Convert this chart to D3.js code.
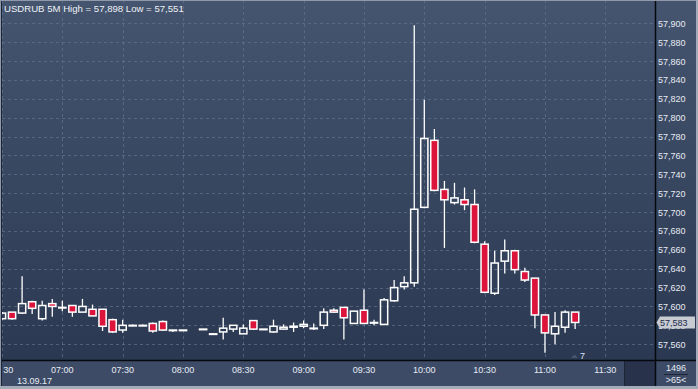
<!DOCTYPE html>
<html>
<head>
<meta charset="utf-8">
<script src="https://cdn.jsdelivr.net/npm/d3@7"></script>
<style>
  body { margin: 0; background: #2c3a55; }
  svg { display: block; font-family: "Liberation Sans", Arial, sans-serif; }
</style>
</head>
<body>
<script>
// 5 minute candles, 13.09.17 (08:05 has no candle)
var times = ["06:30","06:35","06:40","06:45","06:50","06:55","07:00","07:05","07:10","07:15",
             "07:20","07:25","07:30","07:35","07:40","07:45","07:50","07:55","08:00",
             "08:10","08:15","08:20","08:25","08:30","08:35","08:40","08:45","08:50","08:55",
             "09:00","09:05","09:10","09:15","09:20","09:25","09:30","09:35","09:40","09:45",
             "09:50","09:55","10:00","10:05","10:10","10:15","10:20","10:25","10:30","10:35",
             "10:40","10:45","10:50","10:55","11:00","11:05","11:10","11:15"];
var open  = [57.587,57.594,57.593,57.605,57.587,57.603,57.599,57.601,57.594,57.597,
             57.597,57.586,57.575,57.580,57.580,57.582,57.584,57.575,57.575,
             57.576,57.571,57.573,57.576,57.571,57.585,57.576,57.573,57.576,57.578,
             57.579,57.577,57.580,57.596,57.599,57.582,57.596,57.583,57.581,57.606,
             57.621,57.625,57.705,57.776,57.724,57.710,57.713,57.708,57.666,57.614,
             57.648,57.659,57.637,57.630,57.591,57.571,57.578,57.594];
var high  = [57.594,57.594,57.632,57.606,57.606,57.608,57.606,57.601,57.608,57.602,
             57.597,57.587,57.586,57.581,57.581,57.583,57.585,57.575,57.575,
             57.576,57.571,57.588,57.580,57.581,57.585,57.576,57.586,57.581,57.583,
             57.585,57.582,57.598,57.598,57.599,57.595,57.618,57.586,57.609,57.628,
             57.632,57.898,57.819,57.788,57.733,57.731,57.726,57.724,57.669,57.659,
             57.671,57.660,57.641,57.630,57.591,57.594,57.596,57.594];
var low   = [57.586,57.586,57.592,57.592,57.585,57.589,57.595,57.589,57.594,57.590,
             57.574,57.572,57.572,57.579,57.579,57.572,57.574,57.573,57.575,
             57.575,57.570,57.565,57.573,57.571,57.575,57.576,57.572,57.576,57.573,
             57.577,57.575,57.576,57.593,57.565,57.582,57.582,57.580,57.580,57.605,
             57.618,57.621,57.704,57.722,57.662,57.708,57.702,57.667,57.614,57.612,
             57.635,57.635,57.626,57.577,57.551,57.560,57.572,57.576];
var close = [57.593,57.587,57.603,57.598,57.601,57.600,57.599,57.594,57.600,57.590,
             57.579,57.573,57.580,57.580,57.580,57.574,57.575,57.575,57.575,
             57.576,57.571,57.577,57.580,57.577,57.576,57.576,57.579,57.578,57.579,
             57.581,57.577,57.594,57.594,57.588,57.595,57.582,57.583,57.607,57.620,
             57.625,57.703,57.778,57.723,57.713,57.715,57.708,57.668,57.615,57.646,
             57.659,57.639,57.628,57.591,57.572,57.579,57.594,57.583];

var priceTicks = [57.56,57.58,57.60,57.62,57.64,57.66,57.68,57.70,57.72,57.74,
                  57.76,57.78,57.80,57.82,57.84,57.86,57.88,57.90];
var timeTicks = ["06:30","07:00","07:30","08:00","08:30","09:00","09:30","10:00","10:30","11:00","11:30"];

var width = 698, height = 389;
var plotRight = 655, plotBottom = 360;

var parseTime = d3.timeParse("%H:%M");
var ru = d3.formatLocale({decimal: ",", thousands: " ", grouping: [3], currency: ["", ""]});
var fmt = ru.format(".3f");

var candles = times.map(function(t, i) {
  return {t: parseTime(t), o: open[i], h: high[i], l: low[i], c: close[i]};
});

var x = d3.scaleTime()
          .domain([parseTime("06:30"), parseTime("11:30")])
          .range([2, 605.3]);
var y = d3.scaleLinear()
          .domain([57.56, 57.90])
          .range([344.2, 23.3]);

var svg = d3.select("body").append("svg")
            .attr("width", width)
            .attr("height", height);

var defs = svg.append("defs");
var grad = defs.append("linearGradient")
               .attr("id", "bg").attr("x1", 0).attr("y1", 0).attr("x2", 0).attr("y2", 1);
grad.append("stop").attr("offset", "0%").attr("stop-color", "#45556f");
grad.append("stop").attr("offset", "100%").attr("stop-color", "#29364f");

defs.append("clipPath").attr("id", "plotClip")
    .append("rect").attr("x", 2).attr("y", 1).attr("width", plotRight - 2).attr("height", plotBottom - 1);
defs.append("clipPath").attr("id", "axisClip")
    .append("rect").attr("x", 3).attr("y", plotBottom).attr("width", 620).attr("height", 30);

// backgrounds
svg.append("rect").attr("width", width).attr("height", height).attr("fill", "url(#bg)");
svg.append("rect")
   .attr("x", 0).attr("y", plotBottom).attr("width", width).attr("height", height - plotBottom)
   .attr("fill", "#3d4b67");
svg.append("rect")
   .attr("x", 625).attr("y", plotBottom + 1).attr("width", 30).attr("height", 25)
   .attr("fill", "#28334b");
svg.append("line")
   .attr("x1", 624.5).attr("x2", 624.5).attr("y1", plotBottom + 1).attr("y2", 386)
   .attr("stroke", "#1d2536");

// grid
var grid = svg.append("g").attr("clip-path", "url(#plotClip)");
grid.selectAll(".hgrid")
    .data(priceTicks)
    .enter()
    .append("line")
    .attr("x1", 2).attr("x2", plotRight)
    .attr("y1", function(d) { return Math.round(y(d)) + 0.5; })
    .attr("y2", function(d) { return Math.round(y(d)) + 0.5; })
    .attr("stroke", "#62728f").attr("stroke-opacity", 0.7)
    .attr("stroke-dasharray", "3,3");
grid.selectAll(".vgrid")
    .data(timeTicks)
    .enter()
    .append("line")
    .attr("x1", function(d) { return Math.round(x(parseTime(d))) + 0.5; })
    .attr("x2", function(d) { return Math.round(x(parseTime(d))) + 0.5; })
    .attr("y1", 0).attr("y2", plotBottom)
    .attr("stroke", "#62728f").attr("stroke-opacity", 0.7)
    .attr("stroke-dasharray", "3,3");

// candles
var plot = svg.append("g").attr("clip-path", "url(#plotClip)");
var candle = plot.selectAll(".candle")
                 .data(candles)
                 .enter()
                 .append("g")
                 .attr("class", "candle");

candle.append("line")
      .attr("x1", function(d) { return x(d.t); })
      .attr("x2", function(d) { return x(d.t); })
      .attr("y1", function(d) { return y(d.h); })
      .attr("y2", function(d) { return y(Math.max(d.o, d.c)); })
      .attr("stroke", "#fff").attr("stroke-width", 1.3);
candle.append("line")
      .attr("x1", function(d) { return x(d.t); })
      .attr("x2", function(d) { return x(d.t); })
      .attr("y1", function(d) { return y(Math.min(d.o, d.c)); })
      .attr("y2", function(d) { return y(d.l); })
      .attr("stroke", "#fff").attr("stroke-width", 1.3);
candle.append("rect")
      .attr("x", function(d) { return x(d.t) - 3.6; })
      .attr("width", 7.2)
      .attr("y", function(d) { return y(Math.max(d.o, d.c)); })
      .attr("height", function(d) { return Math.max(0.6, y(Math.min(d.o, d.c)) - y(Math.max(d.o, d.c))); })
      .attr("fill", function(d) { return d.c < d.o ? "#dc143c" : "none"; })
      .attr("stroke", "#fff").attr("stroke-width", 1.5);

// frame lines
svg.append("line")
   .attr("x1", 0).attr("x2", width).attr("y1", plotBottom + 0.5).attr("y2", plotBottom + 0.5)
   .attr("stroke", "#05080e").attr("stroke-width", 1.5);
svg.append("line")
   .attr("x1", plotRight + 0.5).attr("x2", plotRight + 0.5).attr("y1", 0).attr("y2", height)
   .attr("stroke", "#05080e").attr("stroke-width", 1.5);
svg.append("rect")
   .attr("x", 0.5).attr("y", 0.5).attr("width", width - 1).attr("height", height - 1)
   .attr("fill", "none").attr("stroke", "#8f99aa");
svg.append("rect")
   .attr("x", 0).attr("y", 386).attr("width", width).attr("height", 3).attr("fill", "#a3abb8");
svg.append("rect")
   .attr("x", 696).attr("y", 0).attr("width", 2).attr("height", height).attr("fill", "#a3abb8");
svg.append("line")
   .attr("x1", 1.5).attr("x2", 1.5).attr("y1", 1).attr("y2", 386)
   .attr("stroke", "#1c2538");

// title
svg.append("text")
   .attr("x", 4).attr("y", 12)
   .attr("font-size", "9.6px").attr("fill", "#eef1f6")
   .text("USDRUB 5M High = " + fmt(d3.max(high)) + " Low = " + fmt(d3.min(low)));

// price axis labels
svg.selectAll(".plabel")
   .data(priceTicks)
   .enter()
   .append("text")
   .attr("x", 658)
   .attr("y", function(d) { return y(d) + 3.5; })
   .attr("font-size", "9px").attr("fill", "#e6ebf3")
   .text(function(d) { return fmt(d); });

// time axis labels
var tl = svg.append("g").attr("clip-path", "url(#axisClip)");
tl.selectAll(".tlabel")
  .data(timeTicks)
  .enter()
  .append("text")
  .attr("x", function(d) { return x(parseTime(d)); })
  .attr("y", 373)
  .attr("text-anchor", "middle")
  .attr("font-size", "9px").attr("fill", "#e6ebf3")
  .text(function(d) { return d; });
svg.append("text")
   .attr("x", 17).attr("y", 384)
   .attr("font-size", "9px").attr("fill", "#e6ebf3")
   .text("13.09.17");

// current price marker
var last = close[close.length - 1];
var ly = y(last);
svg.append("path")
   .attr("d", "M656.5," + ly + "L660," + (ly - 6) + "L695," + (ly - 6) + "L695," + (ly + 6) + "L660," + (ly + 6) + "Z")
   .attr("fill", "#c8cbd1");
svg.append("text")
   .attr("x", 660).attr("y", ly + 3.5)
   .attr("font-size", "9px").attr("fill", "#1b2a4c")
   .text(fmt(last));

// small marker near the last candles
svg.append("path")
   .attr("d", "M571,358L574.5,354.5L578,358Z")
   .attr("fill", "#4a5670");
svg.append("text")
   .attr("x", 580).attr("y", 359)
   .attr("font-size", "9px").attr("fill", "#d8e4f4")
   .text("7");

// bottom right box
svg.append("text")
   .attr("x", 676).attr("y", 371)
   .attr("text-anchor", "middle")
   .attr("font-size", "9px").attr("fill", "#e6ebf3")
   .text("1496");
svg.append("line")
   .attr("x1", 664).attr("x2", 688).attr("y1", 374.5).attr("y2", 374.5)
   .attr("stroke", "#1d2536");
svg.append("text")
   .attr("x", 676).attr("y", 383)
   .attr("text-anchor", "middle")
   .attr("font-size", "9px").attr("fill", "#e6ebf3")
   .text(">65<");
</script>
</body>
</html>
